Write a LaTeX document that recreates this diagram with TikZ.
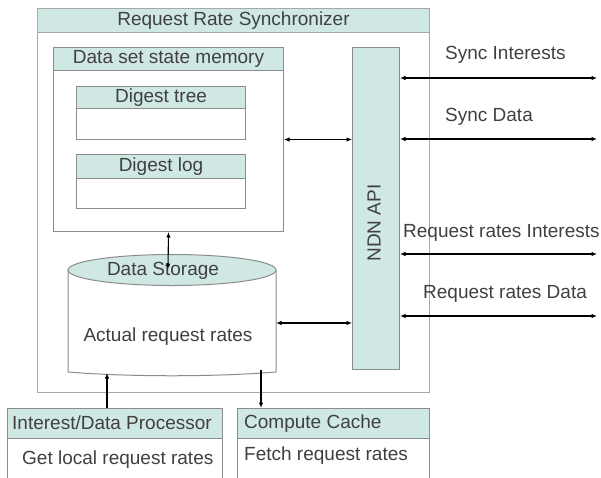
\documentclass[tikz,border=0pt]{standalone}
\usepackage{fontspec}
\setmainfont{Liberation Sans}
\usetikzlibrary{arrows.meta,shapes.geometric}
\definecolor{hdrfill}{HTML}{D0E8E4}
\definecolor{txt}{HTML}{404040}
\definecolor{brd}{HTML}{8C8C8C}
\definecolor{brdlight}{HTML}{A8A8A8}
\begin{document}
\begin{tikzpicture}[x=1pt,y=-1pt,
  every node/.style={text=txt,font=\fontsize{19}{22}\selectfont,inner sep=0pt},
  frame/.style={draw=brd,line width=1pt,fill=white,anchor=north west},
  hdr/.style={draw=brd,line width=1pt,fill=hdrfill,anchor=north west},
  lbl/.style={anchor=west},
  conn/.style={line width=1.1pt,black,{Latex[length=5.5pt,width=4.5pt]}-{Latex[length=5.5pt,width=4.5pt]}},
  oneway/.style={line width=1.1pt,black,-{Latex[length=5.5pt,width=4.5pt]}}]
\useasboundingbox (0,0) rectangle (601,477);
\begin{scope}
\clip (0,0) rectangle (601,477);
% outer synchronizer
\node[frame,draw=brdlight,minimum width=392pt,minimum height=384pt] (rrs) at (37,8) {};
\node[hdr,draw=brdlight,minimum width=392pt,minimum height=24pt] (rrsh) at (37,8) {Request Rate Synchronizer};
% data set state memory
\node[frame,minimum width=230pt,minimum height=184pt] (dssm) at (53,47) {};
\node[hdr,minimum width=230pt,minimum height=23pt] (dssmh) at (53,47) {Data set state memory};
% digest tree
\node[frame,minimum width=169pt,minimum height=53pt] (dt) at (76,86) {};
\node[hdr,minimum width=169pt,minimum height=22pt] (dth) at (76,86) {Digest tree};
% digest log
\node[frame,minimum width=169pt,minimum height=54pt] (dl) at (76,154) {};
\node[hdr,minimum width=169pt,minimum height=24pt] (dlh) at (76,154) {Digest log};
% NDN API
\node[draw=brd,line width=1pt,fill=hdrfill,anchor=north west,minimum width=47pt,minimum height=322pt] (ndn) at (352,47) {};
\node[rotate=90] (ndnt) at (374,223) {NDN API};
% data storage cylinder
\draw[draw=brd,line width=1pt,fill=white] (68,270) -- (68,372) .. controls (130,377) and (214,377) .. (276,372) -- (276,270);
\node[draw=brd,line width=1pt,fill=hdrfill,ellipse,minimum width=208pt,minimum height=31pt] (dst) at (172,270) {};
\node (dstt) at (163,271) {Data Storage};
\node (art) at (168,337) {Actual request rates};
\coordinate (dsin) at (168,269);
\coordinate (dsr) at (276,323);
\coordinate (dsbl) at (107,373);
\coordinate (dsbr) at (261,370);
% processor
\node[frame,minimum width=215pt,minimum height=70pt] (proc) at (7,408) {};
\node[hdr,minimum width=215pt,minimum height=30pt] (proch) at (7,408) {};
\node[lbl] at (12,423) {Interest/Data Processor};
\node[lbl] at (22,460) {Get local request rates};
% compute cache
\node[frame,minimum width=192pt,minimum height=70pt] (cc) at (237,408) {};
\node[hdr,minimum width=192pt,minimum height=30pt] (cch) at (237,408) {};
\node[lbl] at (244,424) {Compute Cache};
\node[lbl] at (244,456) {Fetch request rates};
% external links
\coordinate (e1) at (597,78);
\coordinate (e2) at (597,139);
\coordinate (e3) at (597,254);
\coordinate (e4) at (597,316);
\node[lbl] at (445,55) {Sync Interests};
\node[lbl] at (445,117) {Sync Data};
\node[lbl] at (403,233) {Request rates Interests};
\node[lbl] at (423,294) {Request rates Data};
% connectors
\draw[conn] (dssm.south) -- (dsin);
\draw[conn] (dssm.east) -- (dssm.east -| ndn.west);
\draw[conn] (dsr) -- (dsr -| ndn.west);
\draw[oneway] (proc.north -| dsbl) -- (dsbl);
\draw[oneway] (dsbr) -- (dsbr |- cc.north);
\draw[conn] (e1 -| ndn.east) -- (e1);
\draw[conn] (e2 -| ndn.east) -- (e2);
\draw[conn] (e3 -| ndn.east) -- (e3);
\draw[conn] (e4 -| ndn.east) -- (e4);
\end{scope}
\end{tikzpicture}
\end{document}
